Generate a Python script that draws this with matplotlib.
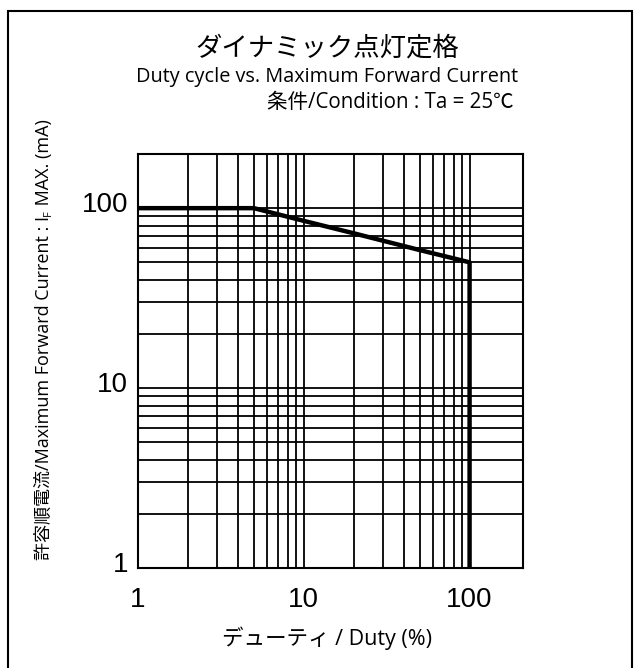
import matplotlib
matplotlib.use("Agg")
import matplotlib.pyplot as plt
import matplotlib.transforms as mtransforms
from matplotlib.patches import Rectangle

duty = [1, 5, 10, 20, 50, 100, 100]
current = [100, 100, 85, 72.5, 58.5, 50, 1]
x_ticks = [1, 10, 100]
x_tick_labels = ["1", "10", "100"]
y_ticks = [1, 10, 100]
y_tick_labels = ["1", "10", "100"]
grid_vals = [1, 2, 3, 4, 5, 6, 7, 8, 9, 10, 20, 30, 40, 50, 60, 70, 80, 90, 100]

title = "ダイナミック点灯定格"
subtitle = "Duty cycle vs. Maximum Forward Current"
condition = "条件/Condition : Ta = 25℃"
xlabel = "デューティ / Duty (%)"
ylabel_parts = ["許容順電流/Maximum Forward Current : I", "F", " MAX. (mA)"]

JP = ["Noto Sans CJK JP", "DejaVu Sans"]
HUM = ["Open Sans", "Noto Sans CJK JP", "DejaVu Sans"]

fig = plt.figure(figsize=(6.4, 6.68), dpi=100)
W, H = 640, 668
fig.patches.append(Rectangle((8 / W, 1 - 680 / H), 624 / W, 669 / H, transform=fig.transFigure,
                             fill=False, edgecolor="black", linewidth=1.5))

ax = fig.add_axes([138 / W, 1 - 568 / H, (523 - 138) / W, (568 - 154) / H])
ax.set_xscale("log")
ax.set_yscale("log")
ax.set_xlim(1, 210)
ax.set_ylim(1, 200)

for v in grid_vals:
    ax.axvline(v, color="black", lw=1.3, zorder=1)
    ax.axhline(v, color="black", lw=1.3, zorder=1)

ax.plot(duty, current, color="black", lw=3.2, zorder=3, solid_capstyle="butt")

for s in ax.spines.values():
    s.set_linewidth(1.5)

ax.set_xticks(x_ticks)
ax.set_xticklabels(x_tick_labels)
ax.set_yticks(y_ticks)
ax.set_yticklabels(y_tick_labels)
ax.minorticks_off()
ax.tick_params(length=0, labelsize=20, pad=14)
for lab in ax.get_xticklabels() + ax.get_yticklabels():
    lab.set_family(["Liberation Sans"])
ax.tick_params(axis="y", pad=7)
off = mtransforms.ScaledTranslation(0, 6 / 100, fig.dpi_scale_trans)
for lab in ax.get_yticklabels():
    lab.set_transform(lab.get_transform() + off)

fig.text(327 / W, 1 - 48 / H, title, ha="center", va="center", fontsize=19, family=JP)
fig.text(327 / W, 1 - 77 / H, subtitle, ha="center", va="center", fontsize=14.3, family=HUM)
fig.text(514 / W, 1 - 102 / H, condition, ha="right", va="center", fontsize=14.8, family=HUM)
fig.text(327 / W, 1 - 638 / H, xlabel, ha="center", va="center", fontsize=15.5, family=HUM)

# rotated y label built from pieces so the subscript F can be shown
xb = 49 / W
t1 = fig.text(xb, 1 - 560 / H, ylabel_parts[0], rotation=90, rotation_mode="anchor",
              ha="left", va="baseline", fontsize=13, family=HUM)
t2 = ax.annotate(ylabel_parts[1], xy=(xb + 2 / W, 1.0), xycoords=("figure fraction", t1),
                 rotation=90, rotation_mode="anchor", ha="left", va="baseline",
                 fontsize=8, family=HUM, annotation_clip=False)
t3 = ax.annotate(ylabel_parts[2], xy=(xb, 1.0), xycoords=("figure fraction", t2),
                 rotation=90, rotation_mode="anchor", ha="left", va="baseline",
                 fontsize=13, family=HUM, annotation_clip=False)

fig.savefig("out.png", dpi=100)
